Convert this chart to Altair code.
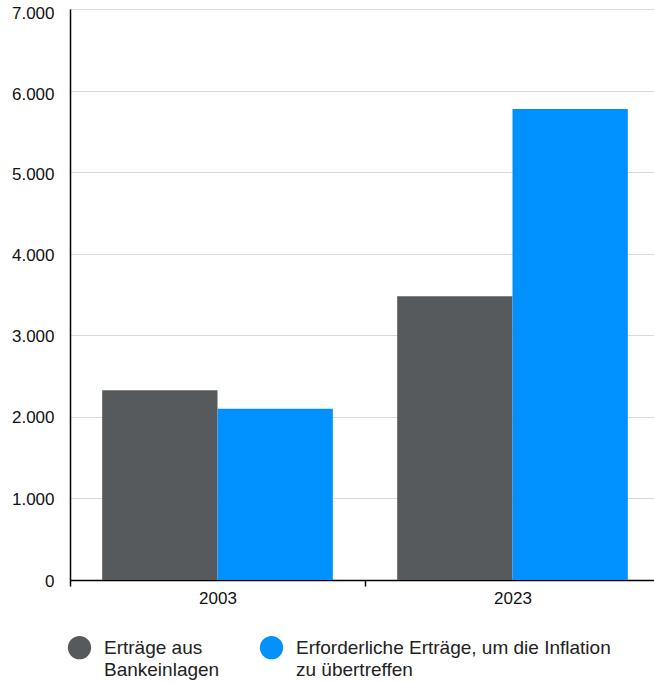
import altair as alt
import pandas as pd

years = ["2003", "2023"]
series = ["Erträge aus Bankeinlagen", "Erforderliche Erträge, um die Inflation zu übertreffen"]
bank_values = [2325, 3480]
required_values = [2100, 5775]
colors = ["#575A5D", "#0091FF"]

rows = []
for i, y in enumerate(years):
    rows.append({"year": y, "series": series[0], "value": bank_values[i]})
    rows.append({"year": y, "series": series[1], "value": required_values[i]})
df = pd.DataFrame(rows)

label_expr = (
    "datum.label == 'Erträge aus Bankeinlagen' ? ['Erträge aus', 'Bankeinlagen'] : "
    "['Erforderliche Erträge, um die Inflation', 'zu übertreffen']"
)

# circle shifted upward so it lines up with the first text line
circle_path = "M -1,-0.52 A 1,1 0 1,1 1,-0.52 A 1,1 0 1,1 -1,-0.52 Z"

y_label_offset = {
    "condition": [
        {"test": "datum.value >= 7000", "value": 4},
        {"test": "datum.value >= 6000", "value": 3.5},
        {"test": "datum.value >= 5000", "value": 2.5},
        {"test": "datum.value >= 4000", "value": 2},
        {"test": "datum.value >= 3000", "value": 1.5},
    ],
    "value": 1,
}

chart = alt.Chart(df).mark_bar(strokeWidth=0).encode(
    x=alt.X("year:N", title=None,
            scale=alt.Scale(paddingInner=0, paddingOuter=0, range=[0, 590]),
            axis=alt.Axis(labelAngle=0, tickBand="extent", domainColor="#000000",
                          tickColor="#000000", tickSize=6, labelFontSize=17,
                          labelColor="#111111", labelPadding=4, domainWidth=1.5,
                          tickWidth=1.5, grid=False, labelFont="Liberation Sans")),
    xOffset=alt.XOffset("series:N", sort=series,
                        scale=alt.Scale(paddingInner=0, paddingOuter=0.279)),
    y=alt.Y("value:Q", title=None,
            scale=alt.Scale(domain=[0, 7000]),
            axis=alt.Axis(values=[0, 1000, 2000, 3000, 4000, 5000, 6000, 7000],
                          labelExpr="replace(format(datum.value, ','), ',', '.')",
                          ticks=False, domainColor="#000000", domainWidth=1.5,
                          grid=True, gridColor="#d9d9d9", labelFontSize=17,
                          labelColor="#111111", labelPadding=16,
                          labelFont="Liberation Sans", labelOffset=y_label_offset)),
    color=alt.Color("series:N", sort=series,
                    scale=alt.Scale(domain=series, range=colors),
                    legend=alt.Legend(title=None, orient="none", legendX=-3, legendY=632,
                                      direction="horizontal", symbolType=circle_path,
                                      symbolSize=540, labelFontSize=19,
                                      labelFont="Liberation Sans", labelColor="#222222",
                                      labelExpr=label_expr, labelLimit=500,
                                      labelBaseline="alphabetic", labelOffset=12,
                                      columnPadding=39)),
).properties(
    width=584, height=571,
    autosize=alt.AutoSizeParams(type="none"),
    padding={"left": 70, "top": 9, "right": 0, "bottom": 102},
).configure_view(stroke=None).configure(style={"guide-label": {"lineHeight": 22}})

chart.save("out.html", embed_options={"renderer": "svg", "actions": False})
